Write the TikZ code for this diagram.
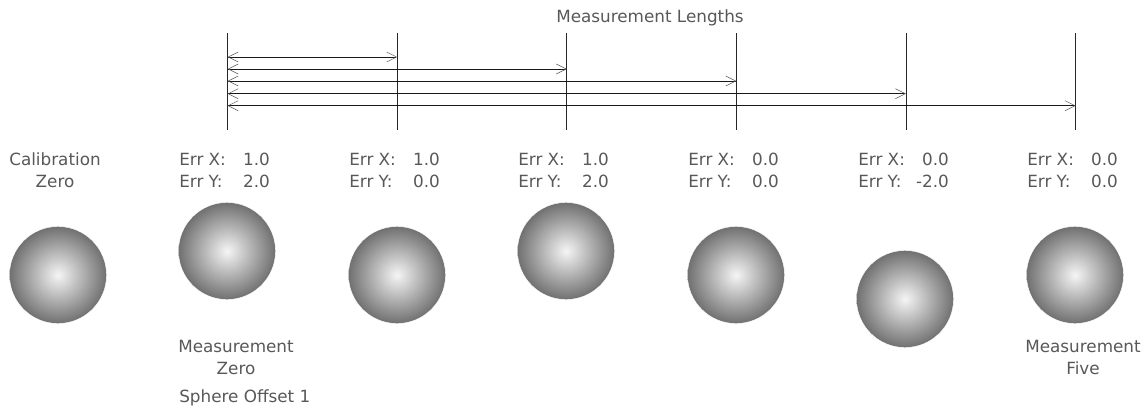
\documentclass[tikz,border=0pt]{standalone}
\usepackage{fontspec}
\setmainfont{DejaVu Sans}
\usetikzlibrary{arrows.meta}
\definecolor{txt}{HTML}{585858}
\tikzset{
  x=0.75pt,y=-0.75pt,
  lbl/.style={inner sep=0pt,text=txt,font=\fontsize{12.6pt}{16.5pt}\selectfont},
  ruler/.style={draw=black!85,line width=0.7pt},
  span/.style={draw=black!90,line width=0.65pt,{Straight Barb[length=7.5pt,width=7.5pt,line width=0.4pt,color=black!65]}-{Straight Barb[length=7.5pt,width=7.5pt,line width=0.4pt,color=black!65]}},
  ball/.style={circle,minimum size=72.8pt,inner sep=0pt,draw=white,line width=0.3pt,shade,shading=radial,inner color=black!4,outer color=black!56}
}
\newcommand{\errblock}[2]{\makebox[68pt][l]{Err X:\hfill #1}\\\makebox[68pt][l]{Err Y:\hfill #2}}
\begin{document}
\begin{tikzpicture}
\useasboundingbox (0,0) rectangle (1146,408);
\foreach \n/\x in {0/227.6,1/397.5,2/566.8,3/736.6,4/906,5/1075.6}{
  \coordinate (t\n) at (\x,33);
  \coordinate (b\n) at (\x,130);
  \draw[ruler] (t\n) -- (b\n);
}
\foreach \n/\y in {1/57,2/69,3/81,4/93.7,5/105.7}{
  \coordinate (l\n) at (227.6,\y);
  \coordinate (r\n) at ({227.6+\n*169.6},\y);
  \draw[span] (l\n) -- (r\n);
}
\node[lbl] (title) at (650,18) {Measurement Lengths};
\node[lbl,align=center] (calib) at (55,170.5) {Calibration\\Zero};
\foreach \n/\x/\ex/\ey in {a/179/1.0/2.0,b/349/1.0/0.0,c/518/1.0/2.0,d/688/0.0/0.0,e/858/0.0/-2.0,f/1027/0.0/0.0}{
  \node[lbl,align=left,anchor=west] (err\n) at (\x,170.5) {\errblock{\ex}{\ey}};
}
\foreach \n/\x/\y in {s0/58/275,s1/227/251,s2/397/275,s3/566/251,s4/736/275,s5/905/299,s6/1075/275}{
  \node[ball] (\n) at (\x,\y) {};
}
\node[lbl,align=center] (mzero) at (236,357.5) {Measurement\\Zero};
\node[lbl,anchor=west] (offset) at (179,398) {Sphere Offset 1};
\node[lbl,align=center] (mfive) at (1083,357.5) {Measurement\\Five};
\end{tikzpicture}
\end{document}
